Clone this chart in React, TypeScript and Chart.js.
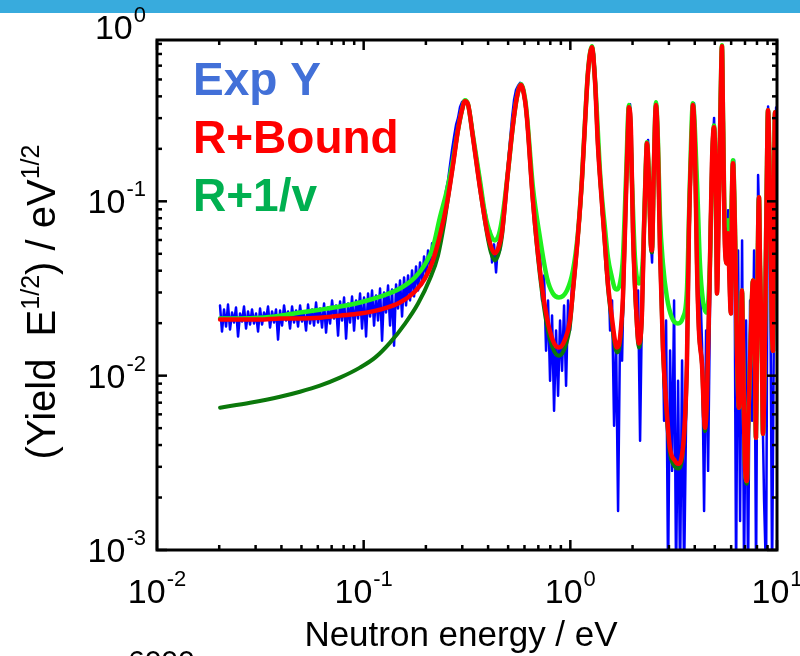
import React, { useEffect, useRef } from 'react';
import { Chart, registerables } from 'chart.js';

Chart.register(...registerables);

// ---------------- data ----------------
// Experimental yield (blue)
const expE = [
  0.02018,0.02063,0.02110,0.02158,0.02206,0.02256,0.02307,0.02359,0.02412,0.02467,
  0.02522,0.02579,0.02637,0.02697,0.02758,0.02820,0.02883,0.02948,0.03015,0.03083,
  0.03152,0.03223,0.03296,0.03370,0.03446,0.03524,0.03603,0.03684,0.03767,0.03852,
  0.03939,0.04028,0.04119,0.04211,0.04306,0.04403,0.04503,0.04604,0.04708,0.04814,
  0.04923,0.05033,0.05147,0.05263,0.05381,0.05503,0.05627,0.05753,0.05883,0.06016,
  0.06151,0.06290,0.06432,0.06577,0.06725,0.06877,0.07032,0.07190,0.07352,0.07518,
  0.07687,0.07860,0.08038,0.08219,0.08404,0.08593,0.08787,0.08985,0.09187,0.09394,
  0.09606,0.09822,0.10044,0.10270,0.10501,0.10738,0.10980,0.11227,0.11480,0.11739,
  0.12003,0.12274,0.12550,0.12833,0.13122,0.13418,0.13720,0.14029,0.14345,0.14668,
  0.14999,0.15337,0.15682,0.16036,0.16397,0.16766,0.17144,0.17530,0.17925,0.18329,
  0.18742,0.19164,0.19596,0.20037,0.20489,0.20950,0.21422,0.21905,
  0.22399,0.22903,0.23419,0.23947,0.24487,0.25039,0.25603,0.26180,0.26770,0.27373,
  0.27990,0.28621,0.29266,0.29925,0.30600,0.31289,0.31995,0.32716,0.33453,0.34207,
  0.34978,0.35766,0.36572,0.37396,0.38239,0.39101,0.39982,0.40883,0.41804,0.42746,
  0.43710,0.44695,0.45702,0.46732,0.47785,0.48862,0.49963,0.51089,0.52241,0.53418,
  0.54622,0.55853,0.57111,0.58399,0.59715,0.61060,0.62436,0.63844,0.65282,0.66754,
  0.68258,0.69796,0.71369,0.72978,0.74622,0.76304,0.78024,0.79782,0.81580,0.83418,
  0.85298,0.87220,0.89186,0.91196,0.93251,0.95353,0.97502,0.99699,1.01946,1.04243,
  1.06592,1.08995,1.11451,1.13962,1.16531,1.19157,1.21842,1.24588,1.27396,1.30267,
  1.33202,1.36204,1.39274,1.42413,1.45622,1.48904,1.52259,1.55691,1.59199,1.62787,
  1.66456,1.70207,1.74043,1.77965,1.81976,1.86077,1.90270,1.94558,1.98943,2.03426,
  2.08010,2.12698,2.17492,2.22393,2.27405,2.32530,2.37770,2.43129,2.48608,2.54211,
  2.59940,2.65798,2.71788,2.77913,2.84176,2.90580,2.97129,3.03825,3.10672,3.17674,
  3.24833,3.32153,3.39639,3.47293,3.55120,3.63123,3.71307,3.79675,3.88231,3.96981,
  4.05927,4.15075,4.24430,4.33995,4.43776,4.53777,4.64004,4.74461,4.85154,4.96087,
  5.07268,5.18700,5.30389,5.42342,5.54565,5.67063,5.79842,5.92910,6.06272,6.19935,
  6.33906,6.48192,6.62800,6.77737,6.93011,7.08629,7.24599,7.40929,7.57627,7.74701,
  7.92160,8.10012,8.28267,8.46933,8.66020,8.85537,9.05494,9.25901,9.46767,9.68104,
  9.89922,10.0,
];
const expY = [
  0.02526,0.01790,0.02395,0.01913,0.02559,0.01838,0.02302,0.02017,0.02460,0.01676,
  0.02272,0.02044,0.02492,0.01863,0.02333,0.01964,0.02395,0.01990,0.02272,0.01790,
  0.02427,0.01964,0.02302,0.02098,0.02492,0.01888,0.02333,0.02017,0.02395,0.01610,
  0.02364,0.01938,0.02526,0.02071,0.02333,0.01863,0.02492,0.02017,0.02364,0.01913,
  0.02526,0.02044,0.02302,0.01814,0.02559,0.01990,0.02395,0.01938,0.02628,0.02017,
  0.02427,0.01888,0.02593,0.01767,0.02460,0.01990,0.02698,0.02126,0.02526,0.01698,
  0.02663,0.02071,0.02808,0.01632,0.02593,0.02017,0.02845,0.01814,0.02698,0.02126,
  0.02960,0.01863,0.02808,0.01676,0.02960,0.02183,0.03080,0.01938,0.02883,0.02071,
  0.03163,0.01589,0.03000,0.02302,0.03291,0.01938,0.03121,0.01487,0.03335,0.02427,
  0.03516,0.02183,0.03659,0.02526,0.03757,0.02698,0.04014,0.02845,0.04232,0.03080,
  0.04462,0.03335,0.04831,0.03707,0.05230,0.04122,0.05738,0.04895,
  0.06132,0.06642,0.07586,0.0832,0.0950,0.1159,0.1323,0.1615,0.1969,0.2339,
  0.2743,0.3010,0.3482,0.372,0.380,0.378,0.356,0.3259,0.2743,0.2248,
  0.1918,0.1615,0.1359,0.1129,0.0950,0.0832,0.0597,0.0682,0.04462,0.05663,
  0.03909,0.05738,0.05230,0.0729,0.0950,0.1238,0.1680,0.2248,0.3010,0.3820,
  0.4362,0.460,0.478,0.470,0.4362,0.3346,0.2500,0.1725,0.1238,0.0866,
  0.06642,0.04705,0.05094,0.02698,0.03757,0.01392,0.02698,0.009358,0.02213,0.006292,
  0.01814,0.007673,0.02071,0.01068,0.02526,0.008759,0.02698,0.01814,0.03424,0.04122,
  0.05230,0.0729,0.1015,0.1552,0.2567,0.4082,0.6100,0.690,0.780,0.7000,
  0.4661,0.2567,0.1414,0.0832,0.0779,0.04014,0.04895,0.01814,0.02698,0.005159,
  0.01589,0.001675,0.01814,0.01220,0.04582,0.1414,0.3010,0.360,0.1725,0.04289,
  0.02364,0.03080,0.004230,0.02698,0.0682,0.1725,0.2248,0.0682,0.04462,0.1615,
  0.370,0.1969,0.05230,0.03516,0.005512,0.02071,0.0007,0.01392,0.002844,0.02698,
  0.0007,0.009358,0.0007,0.01220,0.0007,0.005512,0.02698,0.1159,0.3346,0.365,
  0.1159,0.02698,0.03516,0.01487,0.001675,0.01814,0.002844,0.02698,0.1725,0.3010,
  0.1015,0.04582,0.3346,0.785,0.1015,0.0597,0.0889,0.02698,0.1323,0.1725,
  0.0007,0.05230,0.001467,0.0597,0.0007,0.02071,0.0007,0.02698,0.005512,0.05230,
  0.0007,0.1414,0.04582,0.009358,0.001912,0.0007,0.350,0.05230,0.0007,0.02698,
  0.345,0.04582,
];

// R+Bound fit (red)
const boundE = [
  0.0202,0.0252,0.0315,0.0394,0.0492,0.0614,0.0768,0.0959,0.1199,0.1498,
  0.1771,0.1980,0.2163,0.2339,0.2529,0.2704,0.2859,0.2989,0.3091,0.3196,
  0.3378,0.3653,0.3949,0.4129,0.4316,0.4513,0.4667,0.4989,0.5275,0.5516,
  0.5768,0.6031,0.6166,0.6592,0.7127,0.7702,0.8236,0.8805,0.9417,0.9955,
  1.0294,1.0885,1.1377,1.1764,1.2164,1.2718,1.3151,1.3598,1.4219,1.4702,
  1.5204,1.5895,1.6437,1.6808,1.7379,1.7969,1.8579,1.8999,1.9211,1.9645,
  2.0088,2.1006,2.1478,2.2207,2.2707,2.3220,2.3480,2.4010,2.4547,2.4822,
  2.5381,2.5955,2.6536,2.7136,2.8054,2.9335,3.0330,3.2063,3.3157,3.5050,
  3.6652,3.7480,3.8756,3.9190,4.0076,4.0981,4.1907,4.3334,4.4809,4.5821,
  4.7376,4.8446,4.9536,5.0655,5.1221,5.2374,5.3558,5.4156,5.4762,5.5999,
  5.7262,5.7903,5.8551,5.9838,6.0535,6.1213,6.2597,6.4010,6.5456,6.6935,
  6.7683,6.8441,6.9988,7.1570,7.2371,7.4826,7.6517,7.8247,7.9122,8.0008,
  8.1816,8.2732,8.4602,8.5548,8.7482,8.9459,9.0460,9.2504,9.4595,9.5653,
  9.6725,9.7808,10.0,
];
const boundY = [
  0.0210,0.0210,0.0210,0.0213,0.0213,0.0215,0.0221,0.0227,0.0239,0.0263,
  0.0304,0.0361,0.0458,0.0638,0.0974,0.161,0.2559,0.3334,0.3755,0.3609,
  0.2333,0.1203,0.0681,0.0551,0.0503,0.0551,0.0664,0.1468,0.2734,0.3960,
  0.464,0.3806,0.2999,0.1013,0.0401,0.0215,0.0159,0.0145,0.0161,0.0207,
  0.0308,0.0638,0.1320,0.2734,0.5400,0.765,0.5000,0.2099,0.0974,0.0574,
  0.0338,0.0215,0.0159,0.0145,0.0163,0.0281,0.1054,0.2559,0.3468,0.2559,
  0.0681,0.0199,0.0153,0.0227,0.0681,0.1653,0.2154,0.1320,0.0559,0.0523,
  0.161,0.3563,0.2043,0.0544,0.0145,0.00605,0.00386,0.00325,0.00312,0.00386,
  0.0117,0.0681,0.2559,0.3563,0.2043,0.0440,0.0181,0.0117,0.00502,0.00747,
  0.0440,0.1653,0.2662,0.1054,0.0296,0.1054,0.480,0.775,0.3150,0.0544,
  0.0440,0.0655,0.0440,0.0227,0.1054,0.1653,0.0681,0.0145,0.00655,0.0181,
  0.0308,0.0145,0.00312,0.00249,0.00483,0.0181,0.0352,0.0117,0.00440,0.0181,
  0.1054,0.0440,0.0117,0.00464,0.0181,0.1653,0.3334,0.1054,0.0181,0.0139,
  0.1054,0.3247,0.0366,
];

// R+1/v fit (light green)
const invVE = [
  0.0202,0.0252,0.0315,0.0394,0.0492,0.0614,0.0768,0.0959,0.1199,0.1498,
  0.1771,0.1980,0.2163,0.2339,0.2529,0.2704,0.2859,0.2989,0.3091,0.3196,
  0.3378,0.3653,0.3862,0.4129,0.4316,0.4513,0.4719,0.4989,0.5275,0.5516,
  0.5768,0.6031,0.6166,0.6592,0.7127,0.7702,0.8236,0.8805,0.9629,1.0294,
  1.0885,1.1377,1.1764,1.2164,1.2718,1.3151,1.3448,1.3905,1.4378,1.4702,
  1.5204,1.5895,1.6437,1.6808,1.7379,1.7969,1.8579,1.9211,1.9861,2.0542,
  2.1478,2.2455,2.3220,2.3480,2.4010,2.4547,2.4822,2.5381,2.5955,2.6536,
  2.7136,2.8054,2.9335,3.1008,3.3157,3.5050,3.6652,3.7900,3.9190,4.0981,
  4.2376,4.3819,4.5821,4.7376,4.8988,4.9536,5.0655,5.1221,5.2374,5.3558,
  5.4156,5.4762,5.5999,5.7262,5.7903,5.9206,6.0535,6.1213,6.2597,
  6.4010,6.5456,6.6935,6.7683,6.8441,6.9988,7.1570,7.2371,7.4826,7.6517,
  7.8247,7.9122,8.0008,8.1816,8.2732,8.4602,8.5548,8.7482,8.9459,9.0460,
  9.2504,9.4595,9.5653,9.6725,9.7808,10.0,
];
const invVY = [
  0.0213,0.0213,0.0215,0.0221,0.0230,0.0239,0.0249,0.0263,0.0284,0.0316,
  0.0366,0.0435,0.0544,0.0809,0.1156,0.1720,0.2559,0.3334,0.3800,0.3609,
  0.2394,0.1320,0.0853,0.0638,0.0597,0.0646,0.0853,0.1468,0.2734,0.3960,
  0.470,0.3908,0.3120,0.1203,0.0621,0.0366,0.0296,0.0281,0.0308,0.0401,
  0.066,0.135,0.280,0.548,0.775,0.505,0.3204,0.150,0.092,0.0709,
  0.0477,0.0366,0.0316,0.0312,0.0338,0.0477,0.1320,0.3563,0.1320,0.0477,
  0.0338,0.0477,0.1653,0.2183,0.135,0.058,0.054,0.161,0.3706,0.2242,
  0.0831,0.0440,0.0281,0.0215,0.0199,0.0215,0.0308,0.130,0.3657,0.1320,
  0.0440,0.0270,0.0230,0.0440,0.215,0.272,0.1320,0.0597,0.1156,0.485,
  0.785,0.3300,0.0728,0.0728,0.0778,0.0621,0.1156,0.1720,0.0728,
  0.0145,0.00655,0.0181,0.0308,0.0145,0.00312,0.00249,0.00483,0.0181,0.0352,
  0.0117,0.00440,0.0181,0.1054,0.0440,0.0117,0.00464,0.0181,0.1653,0.3334,
  0.1054,0.0181,0.0139,0.1054,0.3247,0.0366,
];

// R only (dark green)
const rOnlyE = [
  0.0202,0.0282,0.0394,0.0492,0.0614,0.0768,0.0959,0.1135,0.1342,0.1586,
  0.1833,0.2095,0.2290,0.2449,0.2529,0.2704,
  0.2859,0.2989,0.3091,0.3196,0.3378,0.3653,
  0.3949,0.4129,0.4316,0.4513,0.4667,0.4989,0.5275,0.5516,0.5768,0.6031,
  0.6166,0.6592,0.7127,0.7702,0.8236,0.8805,0.9417,0.9955,1.0294,1.0885,
  1.1377,1.1764,1.2164,1.2718,1.3151,1.3598,1.4219,1.4702,1.5204,1.5895,
  1.6437,1.6808,1.7379,1.7969,1.8579,1.8999,1.9211,1.9645,2.0088,2.1006,
  2.1478,2.2207,2.2707,2.3220,2.3480,2.4010,2.4547,2.4822,2.5381,2.5955,
  2.6536,2.7136,2.8054,2.9335,3.0330,3.2063,3.3157,3.5050,3.6652,
  3.7480,3.8756,3.9190,4.0076,4.0981,4.1907,4.3334,4.4809,4.5821,4.7376,
  4.8446,4.9536,5.0655,5.1221,5.2374,5.3558,5.4156,5.4762,5.5999,5.7262,
  5.7903,5.8551,5.9838,6.0535,6.1213,6.2597,6.4010,6.5456,6.6935,6.7683,
  6.8441,6.9988,7.1570,7.2371,7.4826,7.6517,7.8247,7.9122,8.0008,8.1816,
  8.2732,8.4602,8.5548,8.7482,8.9459,9.0460,9.2504,9.4595,9.5653,9.6725,
  9.7808,10.0,
];
const rOnlyY = [
  0.00655,0.00699,0.00757,0.00809,0.00876,0.00974,0.01112,0.01269,0.01548,0.01990,
  0.02593,0.03611,0.04895,0.07388,0.0950,0.161,
  0.2559,0.3334,0.3755,0.3609,0.2333,0.1187,
  0.0655,0.0509,0.0458,0.0509,0.0629,0.1468,0.2734,0.3960,0.464,0.3806,
  0.2999,0.0987,0.0376,0.0194,0.0143,0.0130,0.0145,0.0194,0.0300,0.0629,
  0.1303,0.2734,0.5400,0.765,0.5000,0.2099,0.0974,0.0559,0.0320,0.0202,
  0.0147,0.0136,0.0153,0.0270,0.1054,0.2559,0.3468,0.2559,0.0664,0.0189,
  0.0145,0.0218,0.067,0.1653,0.2154,0.1320,0.0544,0.0509,0.161,0.3563,
  0.2043,0.0537,0.0139,0.00566,0.00361,0.00300,0.00293,0.00366,0.0114,
  0.0681,0.2559,0.3563,0.2043,0.0440,0.0181,0.0117,0.0048,0.00747,0.0440,
  0.1653,0.2662,0.1054,0.0296,0.1054,0.480,0.775,0.3150,0.0544,0.0440,
  0.0655,0.0440,0.0227,0.1054,0.1653,0.0681,0.0145,0.00655,0.0181,0.0308,
  0.0145,0.0030,0.0024,0.00483,0.0181,0.0352,0.0117,0.00440,0.0181,0.1054,
  0.0440,0.0117,0.00464,0.0181,0.1653,0.3334,0.1054,0.0181,0.0139,0.1054,
  0.3247,0.0366,
];

// axis ticks / labels
const xTickValues = [0.01, 0.1, 1, 10];
const xTickExps = ['-2', '-1', '0', '1'];
const yTickValues = [0.001, 0.01, 0.1, 1];
const yTickExps = ['-3', '-2', '-1', '0'];
const minorMultipliers = [2, 3, 4, 5, 6, 7, 8, 9];

const legendLabels = ['Exp Y', 'R+Bound', 'R+1/v'];
const legendColors = ['#4270D8', '#FF0000', '#00B050'];

const FONT = '"Liberation Sans", Arial, Helvetica, sans-serif';

function pts(xs: number[], ys: number[]) {
  return xs.map((x, i) => ({ x, y: ys[i] }));
}

function drawPower(ctx: CanvasRenderingContext2D, exp: string, x: number, baseY: number, align: 'center' | 'right') {
  ctx.font = `34px ${FONT}`;
  const wb = ctx.measureText('10').width;
  ctx.font = `22px ${FONT}`;
  const we = ctx.measureText(exp).width;
  const total = wb + we + 1;
  const left = align === 'center' ? x - total / 2 : x - total;
  ctx.textAlign = 'left';
  ctx.textBaseline = 'alphabetic';
  ctx.font = `34px ${FONT}`;
  ctx.fillText('10', left, baseY);
  ctx.font = `22px ${FONT}`;
  ctx.fillText(exp, left + wb + 1, baseY - 17);
}

const decorPlugin = {
  id: 'decor',
  afterDatasetsDraw(chart: any) {
    const { ctx, chartArea: a, scales } = chart;
    const xs = scales.x;
    const ys = scales.y;
    ctx.save();

    // top banner
    ctx.fillStyle = '#38ABDD';
    ctx.fillRect(0, 0, chart.width, 13);

    // ticks
    ctx.strokeStyle = '#000';
    ctx.lineWidth = 2.5;
    ctx.lineCap = 'butt';
    const line = (x1: number, y1: number, x2: number, y2: number) => {
      ctx.beginPath();
      ctx.moveTo(x1, y1);
      ctx.lineTo(x2, y2);
      ctx.stroke();
    };
    xTickValues.forEach((d) => {
      [1, ...minorMultipliers].forEach((m) => {
        const v = d * m;
        if (v < xs.min * 0.999 || v > xs.max * 1.001) return;
        const px = xs.getPixelForValue(v);
        const len = m === 1 ? 10 : 5;
        line(px, a.bottom, px, a.bottom - len);
        line(px, a.top, px, a.top + len);
      });
    });
    yTickValues.forEach((d) => {
      [1, ...minorMultipliers].forEach((m) => {
        const v = d * m;
        if (v < ys.min * 0.999 || v > ys.max * 1.001) return;
        const py = ys.getPixelForValue(v);
        const len = m === 1 ? 10 : 5;
        line(a.left, py, a.left + len, py);
        line(a.right, py, a.right - len, py);
      });
    });

    // frame
    ctx.lineWidth = 3;
    ctx.strokeRect(a.left, a.top, a.right - a.left, a.bottom - a.top);

    // tick labels
    ctx.fillStyle = '#000';
    xTickValues.forEach((v, i) => {
      drawPower(ctx, xTickExps[i], xs.getPixelForValue(v), 603, 'center');
    });
    yTickValues.forEach((v, i) => {
      drawPower(ctx, yTickExps[i], a.left - 11, ys.getPixelForValue(v) + 12, 'right');
    });

    // x title
    ctx.font = `35px ${FONT}`;
    ctx.textAlign = 'center';
    ctx.textBaseline = 'alphabetic';
    ctx.fillText('Neutron energy / eV', 461, 646);

    // y title (rotated, with superscripts)
    const segs: [string, boolean][] = [['(Yield  E', false], ['1/2', true], [') / eV', false], ['1/2', true]];
    const mainF = `40px ${FONT}`;
    const supF = `25px ${FONT}`;
    let total = 0;
    segs.forEach(([t, s]) => { ctx.font = s ? supF : mainF; total += ctx.measureText(t).width; });
    ctx.save();
    ctx.translate(55, 302);
    ctx.rotate(-Math.PI / 2);
    ctx.textAlign = 'left';
    let cx = -total / 2;
    segs.forEach(([t, s]) => {
      ctx.font = s ? supF : mainF;
      ctx.fillText(t, cx, s ? -16 : 0);
      cx += ctx.measureText(t).width;
    });
    ctx.restore();

    // legend (coloured text only)
    ctx.font = `bold 46px ${FONT}`;
    ctx.textAlign = 'left';
    const baselines = [95, 153, 211];
    legendLabels.forEach((t, i) => {
      ctx.fillStyle = legendColors[i];
      ctx.fillText(t, 193, baselines[i]);
    });

    // partially visible text at the bottom edge
    ctx.fillStyle = '#000';
    ctx.font = `30px ${FONT}`;
    ctx.fillText('6000', 128, 671);

    ctx.restore();
  },
};

export default function App() {
  const ref = useRef<HTMLCanvasElement | null>(null);

  useEffect(() => {
    if (!ref.current) return;
    const common = { pointRadius: 0, pointHoverRadius: 0, fill: false, clip: 0, borderJoinStyle: 'round' as const, borderCapStyle: 'round' as const };
    const chart = new Chart(ref.current, {
      type: 'line',
      data: {
        datasets: [
          { ...common, label: 'R+Bound', data: pts(boundE, boundY), borderColor: '#FF0000', borderWidth: 4.5, cubicInterpolationMode: 'monotone', order: 0 },
          { ...common, label: 'R+1/v', data: pts(invVE, invVY), borderColor: '#1EF01E', borderWidth: 4.5, cubicInterpolationMode: 'monotone', order: 1 },
          { ...common, label: 'R', data: pts(rOnlyE, rOnlyY), borderColor: '#0B780B', borderWidth: 4, cubicInterpolationMode: 'monotone', order: 2 },
          { ...common, label: 'Exp Y', data: pts(expE, expY), borderColor: '#0000FF', borderWidth: 2.5, tension: 0, order: 3 },
        ] as any,
      },
      options: {
        animation: false,
        responsive: false,
        events: [],
        layout: { padding: { top: 40, right: 23, bottom: 0, left: 0 } },
        plugins: { legend: { display: false }, tooltip: { enabled: false }, title: { display: false } },
        scales: {
          x: {
            type: 'logarithmic',
            min: 0.01,
            max: 10,
            ticks: { display: false },
            grid: { display: false },
            border: { display: false },
            afterFit: (s: any) => { s.height = 106; },
          },
          y: {
            type: 'logarithmic',
            min: 0.001,
            max: 0.842,
            ticks: { display: false },
            grid: { display: false },
            border: { display: false },
            afterFit: (s: any) => { s.width = 157; },
          },
        },
      } as any,
      plugins: [decorPlugin],
    });
    return () => chart.destroy();
  }, []);

  return (
    <div style={{ position: 'fixed', left: 0, top: 0, width: 800, height: 656, background: '#fff', overflow: 'hidden' }}>
      <canvas ref={ref} width={800} height={656} style={{ display: 'block', width: 800, height: 656 }} />
    </div>
  );
}
